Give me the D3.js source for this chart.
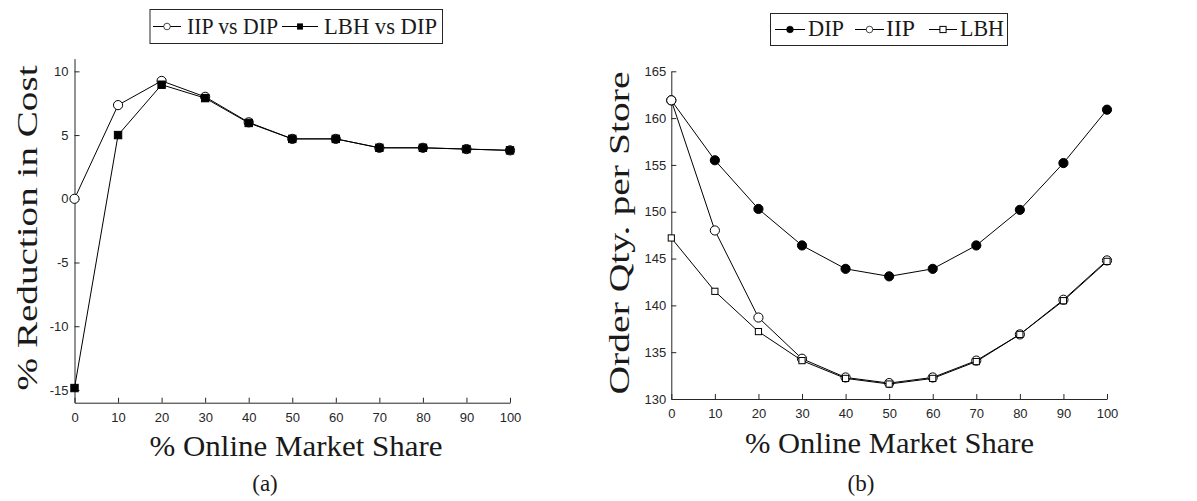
<!DOCTYPE html>
<html>
<head>
<meta charset="utf-8">
<script src="https://cdn.jsdelivr.net/npm/d3@7"></script>
<style>
  html, body { margin: 0; padding: 0; background: #fff; }
  svg { display: block; }
  .tick text { font-family: "Liberation Sans", Arial, sans-serif; font-size: 13px; fill: #262626; }
  .domain, .tick line { stroke: #262626; stroke-width: 1; }
</style>
</head>
<body>
<svg id="chart" width="1197" height="501"></svg>
<script>
// Online market share (%) on the horizontal axis of both panels
const shares = [0, 10, 20, 30, 40, 50, 60, 70, 80, 90, 100];

// Panel (a): % reduction in cost relative to DIP
const iipVsDip = [0, 7.35, 9.25, 8.0, 6.0, 4.7, 4.7, 4.0, 4.0, 3.9, 3.8];
const lbhVsDip = [-14.85, 5.0, 8.95, 7.9, 5.95, 4.7, 4.7, 4.0, 4.0, 3.9, 3.8];

// Panel (b): order quantity per store
const dipQty = [161.9, 155.5, 150.3, 146.4, 143.9, 143.1, 143.9, 146.4, 150.2, 155.2, 160.9];
const iipQty = [161.9, 148.0, 138.7, 134.3, 132.3, 131.7, 132.3, 134.1, 136.9, 140.6, 144.8];
const lbhQty = [147.2, 141.5, 137.2, 134.1, 132.2, 131.6, 132.2, 134.0, 136.9, 140.5, 144.7];

// Tick values
const xTicks = [0, 10, 20, 30, 40, 50, 60, 70, 80, 90, 100];
const costTicks = [-15, -10, -5, 0, 5, 10];
const qtyTicks = [130, 135, 140, 145, 150, 155, 160, 165];

const SERIF = "'Liberation Serif', 'Times New Roman', 'DejaVu Serif', serif";
const svg = d3.select("#chart");

function serifText(g, size) {
  return g.append("text")
    .attr("font-family", SERIF)
    .attr("font-size", size)
    .attr("fill", "#1a1a1a");
}

function drawMarker(g, type, x, y) {
  if (type === "openCircle") {
    g.append("circle").attr("cx", x).attr("cy", y).attr("r", 4.6)
      .attr("fill", "#fff").attr("stroke", "#000").attr("stroke-width", 1);
  } else if (type === "filledCircle") {
    g.append("circle").attr("cx", x).attr("cy", y).attr("r", 4.6)
      .attr("fill", "#000").attr("stroke", "#000").attr("stroke-width", 1);
  } else if (type === "filledSquare") {
    g.append("rect").attr("x", x - 3.7).attr("y", y - 3.7).attr("width", 7.4).attr("height", 7.4)
      .attr("fill", "#000").attr("stroke", "#000").attr("stroke-width", 1);
  } else if (type === "openSquare") {
    g.append("rect").attr("x", x - 3.1).attr("y", y - 3.1).attr("width", 6.2).attr("height", 6.2)
      .attr("fill", "#fff").attr("stroke", "#000").attr("stroke-width", 1);
  }
}

function drawSeries(g, x, y, values, marker) {
  const pts = shares.map((s, i) => [x(s), y(values[i])]);
  g.append("path")
    .attr("d", d3.line()(pts))
    .attr("fill", "none").attr("stroke", "#000").attr("stroke-width", 1);
  const mg = g.append("g");
  pts.forEach(p => drawMarker(mg, marker, p[0], p[1]));
}

function drawLegend(items, box, baseline) {
  const g = svg.append("g");
  g.append("rect").attr("x", box.x).attr("y", box.y).attr("width", box.w).attr("height", box.h)
    .attr("fill", "#fff").attr("stroke", "#262626").attr("stroke-width", 1);
  const midY = box.y + box.h / 2;
  items.forEach(it => {
    g.append("line").attr("x1", it.x0).attr("x2", it.x1).attr("y1", midY).attr("y2", midY)
      .attr("stroke", "#000").attr("stroke-width", 1);
    const s = it.small ? 0.72 : 1;
    const mg = g.append("g")
      .attr("transform", `translate(${(it.x0 + it.x1) / 2},${midY}) scale(${s})`);
    drawMarker(mg, it.marker, 0, 0);
    serifText(g, 23).attr("x", it.tx).attr("y", baseline)
      .attr("textLength", it.tw).attr("lengthAdjust", "spacingAndGlyphs")
      .text(it.label);
  });
}

// ---------- Panel (a) ----------
const xA = d3.scaleLinear().domain([0, 100]).range([74.5, 510]);
const yA = d3.scaleLinear().domain([-16, 11]).range([402.7, 58.6]);

const gA = svg.append("g");
gA.append("g").attr("transform", `translate(0,${yA(-16)})`)
  .call(d3.axisBottom(xA).tickValues(xTicks).tickSize(-5).tickSizeOuter(0).tickPadding(10));
gA.append("g").attr("transform", `translate(${xA(0)},0)`)
  .call(d3.axisLeft(yA).tickValues(costTicks).tickSize(-5).tickSizeOuter(0).tickPadding(6)
    .tickFormat(d => String(d)));

drawSeries(gA, xA, yA, iipVsDip, "openCircle");
drawSeries(gA, xA, yA, lbhVsDip, "filledSquare");

serifText(gA, 30)
  .attr("x", 296).attr("y", 456)
  .attr("text-anchor", "middle")
  .attr("textLength", 293).attr("lengthAdjust", "spacingAndGlyphs")
  .text("% Online Market Share");
serifText(gA, 30)
  .attr("transform", "translate(37,228) rotate(-90)")
  .attr("text-anchor", "middle")
  .attr("textLength", 325).attr("lengthAdjust", "spacingAndGlyphs")
  .text("% Reduction in Cost");
serifText(gA, 23)
  .attr("x", 265).attr("y", 491).attr("text-anchor", "middle")
  .text("(a)");

drawLegend([
  { x0: 153, x1: 181, marker: "openCircle", small: true, tx: 187, tw: 91, label: "IIP vs DIP" },
  { x0: 282, x1: 318, marker: "filledSquare", small: true, tx: 324, tw: 113, label: "LBH vs DIP" }
], { x: 150, y: 9.5, w: 292.5, h: 34 }, 33.5);

// ---------- Panel (b) ----------
const xB = d3.scaleLinear().domain([0, 100]).range([671.3, 1107]);
const yB = d3.scaleLinear().domain([130, 165]).range([399, 71.3]);

const gB = svg.append("g");
gB.append("g").attr("transform", `translate(0,${yB(130)})`)
  .call(d3.axisBottom(xB).tickValues(xTicks).tickSize(-5).tickSizeOuter(0).tickPadding(10));
gB.append("g").attr("transform", `translate(${xB(0)},0)`)
  .call(d3.axisLeft(yB).tickValues(qtyTicks).tickSize(-5).tickSizeOuter(0).tickPadding(5));

drawSeries(gB, xB, yB, dipQty, "filledCircle");
drawSeries(gB, xB, yB, iipQty, "openCircle");
drawSeries(gB, xB, yB, lbhQty, "openSquare");

serifText(gB, 30)
  .attr("x", 889.5).attr("y", 453)
  .attr("text-anchor", "middle")
  .attr("textLength", 289).attr("lengthAdjust", "spacingAndGlyphs")
  .text("% Online Market Share");
serifText(gB, 30)
  .attr("transform", "translate(629,233) rotate(-90)")
  .attr("text-anchor", "middle")
  .attr("textLength", 323).attr("lengthAdjust", "spacingAndGlyphs")
  .text("Order Qty. per Store");
serifText(gB, 23)
  .attr("x", 861).attr("y", 491).attr("text-anchor", "middle")
  .text("(b)");

drawLegend([
  { x0: 775, x1: 805, marker: "filledCircle", small: true, tx: 808, tw: 36, label: "DIP" },
  { x0: 855, x1: 884, marker: "openCircle", small: true, tx: 886, tw: 29, label: "IIP" },
  { x0: 929, x1: 957, marker: "openSquare", small: false, tx: 960, tw: 44, label: "LBH" }
], { x: 770.5, y: 13.5, w: 237, h: 32 }, 36);
</script>
</body>
</html>
